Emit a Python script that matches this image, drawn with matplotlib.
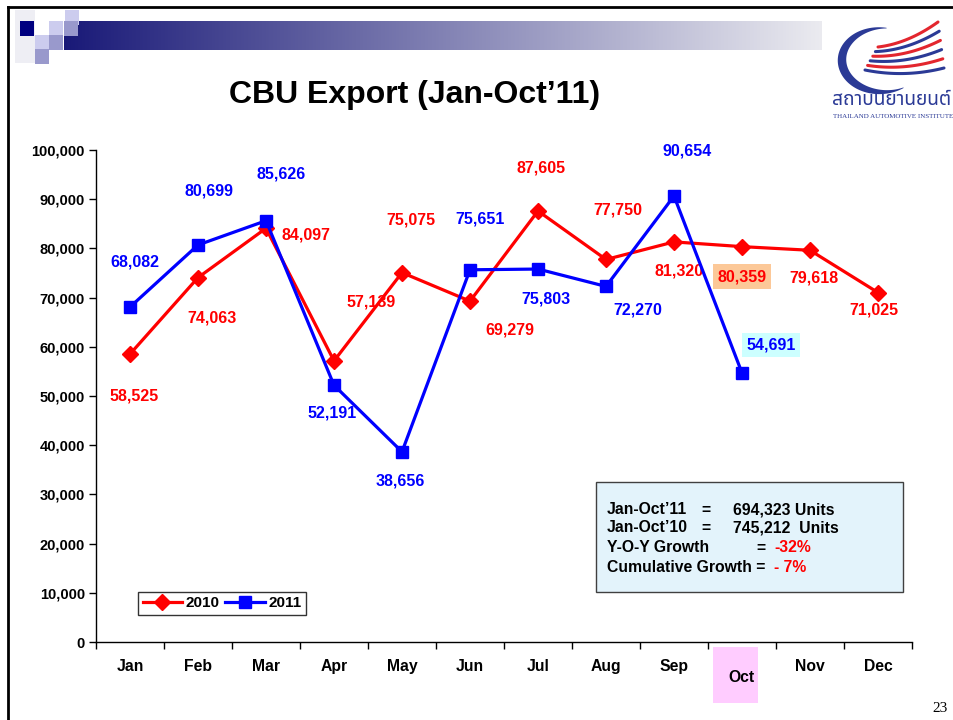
import numpy as np
import matplotlib
matplotlib.use('Agg')
import matplotlib.pyplot as plt
import matplotlib.transforms as mtransforms
from matplotlib.patches import Rectangle, Polygon
from matplotlib.ticker import FixedLocator, FuncFormatter

plt.rcParams['font.family'] = ['Liberation Sans', 'DejaVu Sans']
plt.rcParams['font.weight'] = 'bold'

months = ['Jan', 'Feb', 'Mar', 'Apr', 'May', 'Jun', 'Jul', 'Aug', 'Sep', 'Oct', 'Nov', 'Dec']
units_2010 = [58525, 74063, 84097, 57139, 75075, 69279, 87605, 77750, 81320, 80359, 79618, 71025]
units_2011 = [68082, 80699, 85626, 52191, 38656, 75651, 75803, 72270, 90654, 54691]

summary_rows = [('Jan-Oct\u201911', '=', '694,323 Units'),
                ('Jan-Oct\u201910', '=', '745,212  Units')]
growth_rows = [('Y-O-Y Growth', '-32%'),
               ('Cumulative Growth =', '- 7%')]

# label offsets in pixels (dx, dy), one per point
off_2010 = [(4, -42), (14, -40), (40, -7), (37, 59), (9, 53), (40, -29),
            (3, 43), (12, 49), (5, -29), (0, -30), (4, -28), (-4, -17)]
off_2011 = [(5, 45), (11, 54), (15, 47), (-2, -28), (-2, -29), (10, 51),
            (8, -30), (32, -24), (13, 45), (29, 28)]

W, H = 954, 720
fig = plt.figure(figsize=(W / 100, H / 100), dpi=100)

# background / slide decoration in pixel coordinates
bg = fig.add_axes([0, 0, 1, 1])
bg.set_xlim(0, W)
bg.set_ylim(H, 0)
bg.axis('off')

# slide frame
bg.plot([8, 8], [7, H], color='black', lw=2)
bg.plot([8, W], [7, 7], color='black', lw=2)

# gradient bar
grad = np.linspace(0, 1, 256)[None, :]
c0 = np.array([0.10, 0.10, 0.47])
c1 = np.array([0.92, 0.92, 0.94])
img = c0[None, None, :] * (1 - grad[..., None]) + c1[None, None, :] * grad[..., None]
bg.imshow(img, extent=[64, 822, 50, 21], aspect='auto', zorder=1)

# faint left fade
bg.add_patch(Rectangle((15, 10), 20, 53, facecolor='#eeeef4', edgecolor='none', zorder=1))
sq = [((65, 10), '#ccccee'), ((49, 21), '#ccccee'), ((64, 21), '#9999cc'),
      ((20, 21), '#000080'), ((35, 35), '#ccccee'), ((49, 35), '#9999cc'),
      ((35, 49), '#9999cc')]
for (x, y), c in sq:
    bg.add_patch(Rectangle((x, y), 14.5, 14.5, facecolor=c, edgecolor='none', zorder=2))

# logo: swoosh
t = np.linspace(np.radians(85), np.radians(300), 150)
wdt = 8 * np.sin(np.pi * (t - t[0]) / (t[-1] - t[0])) + 0.6
cx, cy, rx, ry = 883, 60, 41, 32
outer = np.c_[cx + (rx + wdt / 2) * np.cos(t), cy - (ry + wdt / 2) * np.sin(t)]
inner = np.c_[cx + (rx - wdt / 2) * np.cos(t), cy - (ry - wdt / 2) * np.sin(t)]
bg.add_patch(Polygon(np.r_[outer, inner[::-1]], closed=True, facecolor='#2b3a96',
                     edgecolor='none', zorder=3))
s = np.linspace(0, 1, 50)[:, None]
for i in range(6):
    f = i / 5
    p0 = np.array([878 - 13 * f, 47 + 23 * f])
    p2 = np.array([938 + 6 * f, 22 + 46 * f])
    p1 = (p0 + p2) / 2 + np.array([0, 9])
    pts = (1 - s) ** 2 * p0 + 2 * (1 - s) * s * p1 + s ** 2 * p2
    bg.plot(pts[:, 0], pts[:, 1], color='#2b3a96' if i % 2 else '#e3262e',
            lw=2.2, solid_capstyle='round', zorder=3)
bg.text(832, 100, 'สถาบันยานยนต์', color='#2b3a96', fontsize=13.8, fontweight='normal',
        ha='left', va='center', family=['Noto Sans Thai', 'Noto Sans', 'DejaVu Sans'])
bg.text(833, 117, 'THAILAND AUTOMOTIVE INSTITUTE', color='#2b3a96', fontsize=5,
        fontweight='normal', ha='left', va='center', family='Liberation Serif')

# title
bg.text(415, 95, 'CBU Export (Jan-Oct\u201911)', fontsize=23, fontweight='bold',
        ha='center', va='center')

# page number
bg.text(940, 708, '23', fontsize=11, fontweight='normal', family='Liberation Serif',
        ha='center', va='center')

# Oct highlight
bg.add_patch(Rectangle((713, 647), 45, 56, facecolor='#ffccff', edgecolor='none', zorder=1))

# summary box
bg.add_patch(Rectangle((596, 482), 307, 110, facecolor='#e3f3fb', edgecolor='#404040',
                       lw=1, zorder=1))
fs = 11.3
ys = [510, 528, 548, 567]
for (a, b, c), y in zip(summary_rows, ys[:2]):
    bg.text(607, y, a, fontsize=fs, ha='left', va='center')
    bg.text(706, y, b, fontsize=fs, ha='center', va='center')
    bg.text(733, y, c, fontsize=fs, ha='left', va='center')
bg.text(607, ys[2], growth_rows[0][0], fontsize=fs, ha='left', va='center')
bg.text(761, ys[2], '=', fontsize=fs, ha='center', va='center')
bg.text(774, ys[2], growth_rows[0][1], fontsize=fs, color='#ff0000', ha='left', va='center')
bg.text(607, ys[3], growth_rows[1][0], fontsize=fs, ha='left', va='center')
bg.text(774, ys[3], growth_rows[1][1], fontsize=fs, color='#ff0000', ha='left', va='center')

# main chart
ax = fig.add_axes([96 / W, 1 - 642 / H, 816 / W, 492 / H])
ax.patch.set_visible(False)
x = np.arange(len(months))
ax.plot(x, units_2010, color='#ff0000', lw=2.3, marker='D', markersize=8, label='2010', zorder=3)
ax.plot(x[:len(units_2011)], units_2011, color='#0000ff', lw=2.3, marker='s', markersize=8.5,
        label='2011', zorder=4)

for i, v in enumerate(units_2010):
    kw = {}
    if months[i] == 'Oct':
        kw['bbox'] = dict(boxstyle='square,pad=0.3', facecolor='#fcc898', edgecolor='none')
    ax.annotate(f'{v:,}', (x[i], v), xytext=off_2010[i], textcoords='offset pixels',
                ha='center', va='center', fontsize=11.5, color='#ff0000', **kw)
for i, v in enumerate(units_2011):
    kw = {}
    if months[i] == 'Oct':
        kw['bbox'] = dict(boxstyle='square,pad=0.3', facecolor='#ccffff', edgecolor='none')
    ax.annotate(f'{v:,}', (x[i], v), xytext=off_2011[i], textcoords='offset pixels',
                ha='center', va='center', fontsize=11.5, color='#0000ff', **kw)

ax.set_xlim(-0.5, len(months) - 0.5)
ax.set_ylim(0, 100000)
ax.yaxis.set_major_locator(FixedLocator(np.arange(0, 100001, 10000)))
ax.yaxis.set_major_formatter(FuncFormatter(lambda v, p: f'{int(v):,}'))
ax.set_xticks(x)
ax.set_xticklabels(months)
ax.set_xticks(np.arange(-0.5, len(months)), minor=True)
ax.tick_params(axis='x', which='major', length=0, pad=12.5, labelsize=11.3)
ax.tick_params(axis='x', which='minor', length=5, width=1, direction='out')
ax.tick_params(axis='y', length=5, width=1, direction='out', pad=3, labelsize=10.5)
for lab in ax.get_yticklabels() + ax.get_xticklabels():
    lab.set_fontweight('bold')
oct_lab = ax.get_xticklabels()[months.index('Oct')]
oct_lab.set_transform(oct_lab.get_transform() +
                      mtransforms.ScaledTranslation(0, -11 / 100, fig.dpi_scale_trans))
ax.spines['top'].set_visible(False)
ax.spines['right'].set_visible(False)
for s_ in ('left', 'bottom'):
    ax.spines[s_].set_linewidth(1)

leg = ax.legend(loc='lower left', bbox_to_anchor=(0.0515, 0.055), borderaxespad=0, ncol=2,
                frameon=True, fancybox=False, edgecolor='black', handlelength=2.6,
                handletextpad=0.2, columnspacing=0.4, borderpad=0.3,
                prop={'weight': 'bold', 'size': 11})
leg.get_frame().set_linewidth(1)

fig.savefig('out.png', dpi=100)
